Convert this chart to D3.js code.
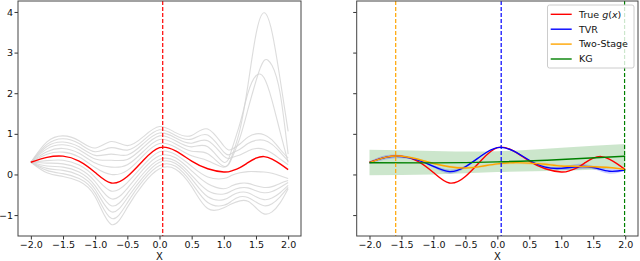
<!DOCTYPE html>
<html>
<head>
<meta charset="utf-8">
<script src="https://cdn.jsdelivr.net/npm/d3@7"></script>
<style>
body { margin: 0; background: #fff; }
text { font-family: "DejaVu Sans", sans-serif; }
</style>
</head>
<body>
<svg id="chart" width="640" height="261"></svg>
<script>
// x grid of the left panel (finer on the right where the samples spike)
var gridX = [-2, -1.75, -1.5, -1.25, -1, -0.75, -0.5, -0.25, 0, 0.25, 0.5, 0.75,
             1, 1.125, 1.25, 1.375, 1.5, 1.625, 1.75, 1.875, 2];

var trueG = [0.30, 0.42, 0.45, 0.33, 0.05, -0.21, -0.05, 0.35, 0.66, 0.58, 0.33, 0.14,
             0.06, 0.09, 0.17, 0.29, 0.40, 0.44, 0.38, 0.26, 0.12];

// gray posterior samples
var samples = [
  [0.30, 0.80, 0.95, 0.83, 0.65, 0.81, 0.71, 0.93, 1.18, 1.03, 0.96, 1.12, 0.70, 0.62, 0.75, 0.92, 1.00, 0.98, 0.85, 0.62, 0.40],
  [0.30, 0.74, 0.88, 0.76, 0.56, 0.66, 0.60, 0.84, 1.10, 0.96, 0.87, 0.97, 0.55, 0.52, 0.62, 0.76, 0.84, 0.84, 0.74, 0.55, 0.33],
  [0.30, 0.69, 0.80, 0.68, 0.47, 0.50, 0.48, 0.76, 1.02, 0.90, 0.77, 0.83, 0.45, 0.42, 0.48, 0.58, 0.64, 0.62, 0.52, 0.38, 0.24],
  [0.30, 0.63, 0.73, 0.61, 0.38, 0.35, 0.37, 0.67, 0.95, 0.83, 0.68, 0.68, 0.30, 0.62, 1.25, 2.00, 2.43, 2.38, 1.82, 1.05, 0.30],
  [0.30, 0.56, 0.64, 0.52, 0.28, 0.18, 0.24, 0.57, 0.86, 0.75, 0.57, 0.51, 0.20, 0.45, 1.10, 2.20, 3.45, 3.98, 3.50, 2.35, 1.06],
  [0.30, 0.50, 0.55, 0.43, 0.17, 0.00, 0.10, 0.47, 0.76, 0.67, 0.46, 0.34, 0.18, 0.40, 0.90, 1.60, 2.30, 2.80, 2.68, 2.00, 0.50],
  [0.30, 0.34, 0.35, 0.23, -0.07, -0.41, -0.20, 0.23, 0.56, 0.49, 0.20, -0.06, -0.10, -0.02, 0.04, 0.07, 0.07, 0.06, 0.03, -0.03, -0.10],
  [0.30, 0.28, 0.26, 0.14, -0.18, -0.60, -0.34, 0.13, 0.46, 0.41, 0.09, -0.23, -0.35, -0.28, -0.22, -0.22, -0.28, -0.32, -0.30, -0.22, -0.15],
  [0.30, 0.21, 0.18, 0.06, -0.28, -0.77, -0.47, 0.03, 0.37, 0.33, -0.02, -0.40, -0.48, -0.40, -0.33, -0.33, -0.40, -0.45, -0.42, -0.32, -0.20],
  [0.30, 0.15, 0.10, -0.02, -0.37, -0.92, -0.58, -0.06, 0.30, 0.27, -0.11, -0.55, -0.62, -0.52, -0.44, -0.45, -0.55, -0.62, -0.58, -0.45, -0.27],
  [0.30, 0.10, 0.02, -0.10, -0.46, -1.08, -0.70, -0.14, 0.22, 0.20, -0.21, -0.69, -0.76, -0.65, -0.55, -0.57, -0.68, -0.77, -0.72, -0.55, -0.32],
  [0.30, 0.04, -0.05, -0.17, -0.55, -1.23, -0.81, -0.23, 0.14, 0.13, -0.30, -0.84, -0.82, -0.72, -0.65, -0.66, -0.82, -0.97, -0.92, -0.70, -0.35]
];

// right panel: estimates on a 0.25 grid
var fitX = [-2, -1.75, -1.5, -1.25, -1, -0.75, -0.5, -0.25, 0, 0.25, 0.5, 0.75, 1, 1.25, 1.5, 1.75, 2];
var tvr = [0.29, 0.42, 0.44, 0.36, 0.20, 0.07, 0.19, 0.46, 0.66, 0.58, 0.35, 0.18, 0.15, 0.19, 0.17, 0.08, 0.11];
var tvrStd = [0.03, 0.05, 0.04, 0.02, 0.03, 0.05, 0.03, 0.01, 0.0, 0.01, 0.02, 0.03, 0.04, 0.07, 0.04, 0.06, 0.02];
var twoStage = [0.29, 0.42, 0.45, 0.38, 0.27, 0.19, 0.16, 0.20, 0.26, 0.29, 0.28, 0.25, 0.21, 0.20, 0.19, 0.17, 0.12];
var twoStageStd = [0.01, 0.02, 0.02, 0.02, 0.02, 0.03, 0.03, 0.03, 0.03, 0.04, 0.04, 0.04, 0.03, 0.03, 0.03, 0.02, 0.01];
var kgX = [-2, -1, 0, 1, 2];
var kg = [0.29, 0.285, 0.31, 0.37, 0.45];
var kgLow = [-0.02, 0.0, 0.06, 0.09, 0.15];
var kgHigh = [0.61, 0.58, 0.57, 0.66, 0.75];

// chosen points (dashed verticals)
var leftPick = 0.05;
var picks = [{x: -1.59, c: "orange"}, {x: 0.06, c: "blue"}, {x: 1.99, c: "green"}];

var xTicks = [-2, -1.5, -1, -0.5, 0, 0.5, 1, 1.5, 2];
var yTicks = [-1, 0, 1, 2, 3, 4];
var legendItems = [
  {label: "True", math: true, c: "red"},
  {label: "TVR", c: "blue"},
  {label: "Two-Stage", c: "orange"},
  {label: "KG", c: "green"}
];

var svg = d3.select("#chart"),
    plotTop = 1, plotBottom = 236;

var y = d3.scaleLinear().domain([-1.515, 4.27]).range([plotBottom, plotTop]);
var xL = d3.scaleLinear().domain([-2.2, 2.2]).range([18, 301]);
var xR = d3.scaleLinear().domain([-2.2, 2.2]).range([356.7, 638]);

var smooth = d3.curveNatural;

function lineOn(x, xs) {
  return d3.line()
    .x(function(d, i) { return x(xs[i]); })
    .y(function(d) { return y(d); })
    .curve(smooth);
}

function bandOn(x, xs, lo, hi) {
  return d3.area()
    .x(function(d, i) { return x(xs[i]); })
    .y0(function(d, i) { return y(lo(d, i)); })
    .y1(function(d, i) { return y(hi(d, i)); })
    .curve(smooth);
}

function drawAxes(x, labels) {
  var gx = svg.append("g")
    .attr("transform", "translate(0," + plotBottom + ")")
    .call(d3.axisBottom(x).tickValues(xTicks).tickFormat(d3.format(".1f")).tickSize(3.5).tickPadding(2));
  var gy = svg.append("g")
    .attr("transform", "translate(" + x.range()[0] + ",0)")
    .call(d3.axisLeft(y).tickValues(yTicks).tickFormat(labels ? d3.format("d") : "").tickSize(3.5).tickPadding(1.5));
  [gx, gy].forEach(function(g) {
    g.select(".domain").remove();
    g.selectAll(".tick line").attr("stroke", "#333");
    g.selectAll(".tick text").attr("fill", "#111").style("font-size", "9.5px");
  });
  svg.append("rect")
    .attr("x", x.range()[0]).attr("y", plotTop)
    .attr("width", x.range()[1] - x.range()[0]).attr("height", plotBottom - plotTop)
    .attr("fill", "none").attr("stroke", "#444").attr("stroke-width", 1);
  svg.append("text")
    .attr("x", (x.range()[0] + x.range()[1]) / 2).attr("y", 260)
    .attr("text-anchor", "middle").style("font-size", "10px").attr("fill", "#111")
    .text("X");
}

// ---- left panel ----
var lineL = lineOn(xL, gridX);
svg.append("g").selectAll("path").data(samples).enter().append("path")
  .attr("d", lineL)
  .attr("fill", "none").attr("stroke", "#d3d3d3").attr("stroke-opacity", 0.8).attr("stroke-width", 1.1);
svg.append("path").attr("d", lineL(trueG))
  .attr("fill", "none").attr("stroke", "red").attr("stroke-width", 1.4);
svg.append("line")
  .attr("x1", xL(leftPick)).attr("x2", xL(leftPick)).attr("y1", plotTop).attr("y2", plotBottom)
  .attr("stroke", "red").attr("stroke-width", 1.2).attr("stroke-dasharray", "4,2");
drawAxes(xL, true);

// ---- right panel ----
svg.append("path")
  .attr("d", bandOn(xR, kgX, function(d, i) { return kgLow[i]; }, function(d, i) { return kgHigh[i]; })(kg))
  .attr("fill", "green").attr("fill-opacity", 0.2);
svg.append("path")
  .attr("d", bandOn(xR, fitX, function(d, i) { return d - tvrStd[i]; }, function(d, i) { return d + tvrStd[i]; })(tvr))
  .attr("fill", "blue").attr("fill-opacity", 0.2);
svg.append("path")
  .attr("d", bandOn(xR, fitX, function(d, i) { return d - twoStageStd[i]; }, function(d, i) { return d + twoStageStd[i]; })(twoStage))
  .attr("fill", "orange").attr("fill-opacity", 0.2);

svg.append("path").attr("d", lineOn(xR, gridX)(trueG))
  .attr("fill", "none").attr("stroke", "red").attr("stroke-width", 1.4);
svg.append("path").attr("d", lineOn(xR, fitX)(tvr))
  .attr("fill", "none").attr("stroke", "blue").attr("stroke-width", 1.4);
svg.append("path").attr("d", lineOn(xR, fitX)(twoStage))
  .attr("fill", "none").attr("stroke", "orange").attr("stroke-width", 1.4);
svg.append("path").attr("d", lineOn(xR, kgX)(kg))
  .attr("fill", "none").attr("stroke", "green").attr("stroke-width", 1.4);

svg.append("g").selectAll("line").data(picks).enter().append("line")
  .attr("x1", function(d) { return xR(d.x); }).attr("x2", function(d) { return xR(d.x); })
  .attr("y1", plotTop).attr("y2", plotBottom)
  .attr("stroke", function(d) { return d.c; }).attr("stroke-width", 1.2).attr("stroke-dasharray", "4,2");
drawAxes(xR, false);

// legend
var legend = svg.append("g").attr("transform", "translate(547.5,5)");
legend.append("rect")
  .attr("width", 86.5).attr("height", 63).attr("rx", 2)
  .attr("fill", "white").attr("fill-opacity", 0.8).attr("stroke", "#ccc");
var rows = legend.selectAll("g").data(legendItems).enter().append("g")
  .attr("transform", function(d, i) { return "translate(0," + (9.3 + i * 14.9) + ")"; });
rows.append("line").attr("x1", 3.2).attr("x2", 24.2)
  .attr("stroke", function(d) { return d.c; }).attr("stroke-width", 1.4);
var label = rows.append("text").attr("x", 31.5).attr("dy", "0.35em")
  .style("font-size", "9.5px").attr("fill", "#111");
label.each(function(d) {
  var t = d3.select(this);
  if (!d.math) { t.text(d.label); return; }
  t.append("tspan").text(d.label + " ");
  t.append("tspan").style("font-style", "italic").text("g");
  t.append("tspan").text("(");
  t.append("tspan").style("font-style", "italic").text("x");
  t.append("tspan").text(")");
});
</script>
</body>
</html>
